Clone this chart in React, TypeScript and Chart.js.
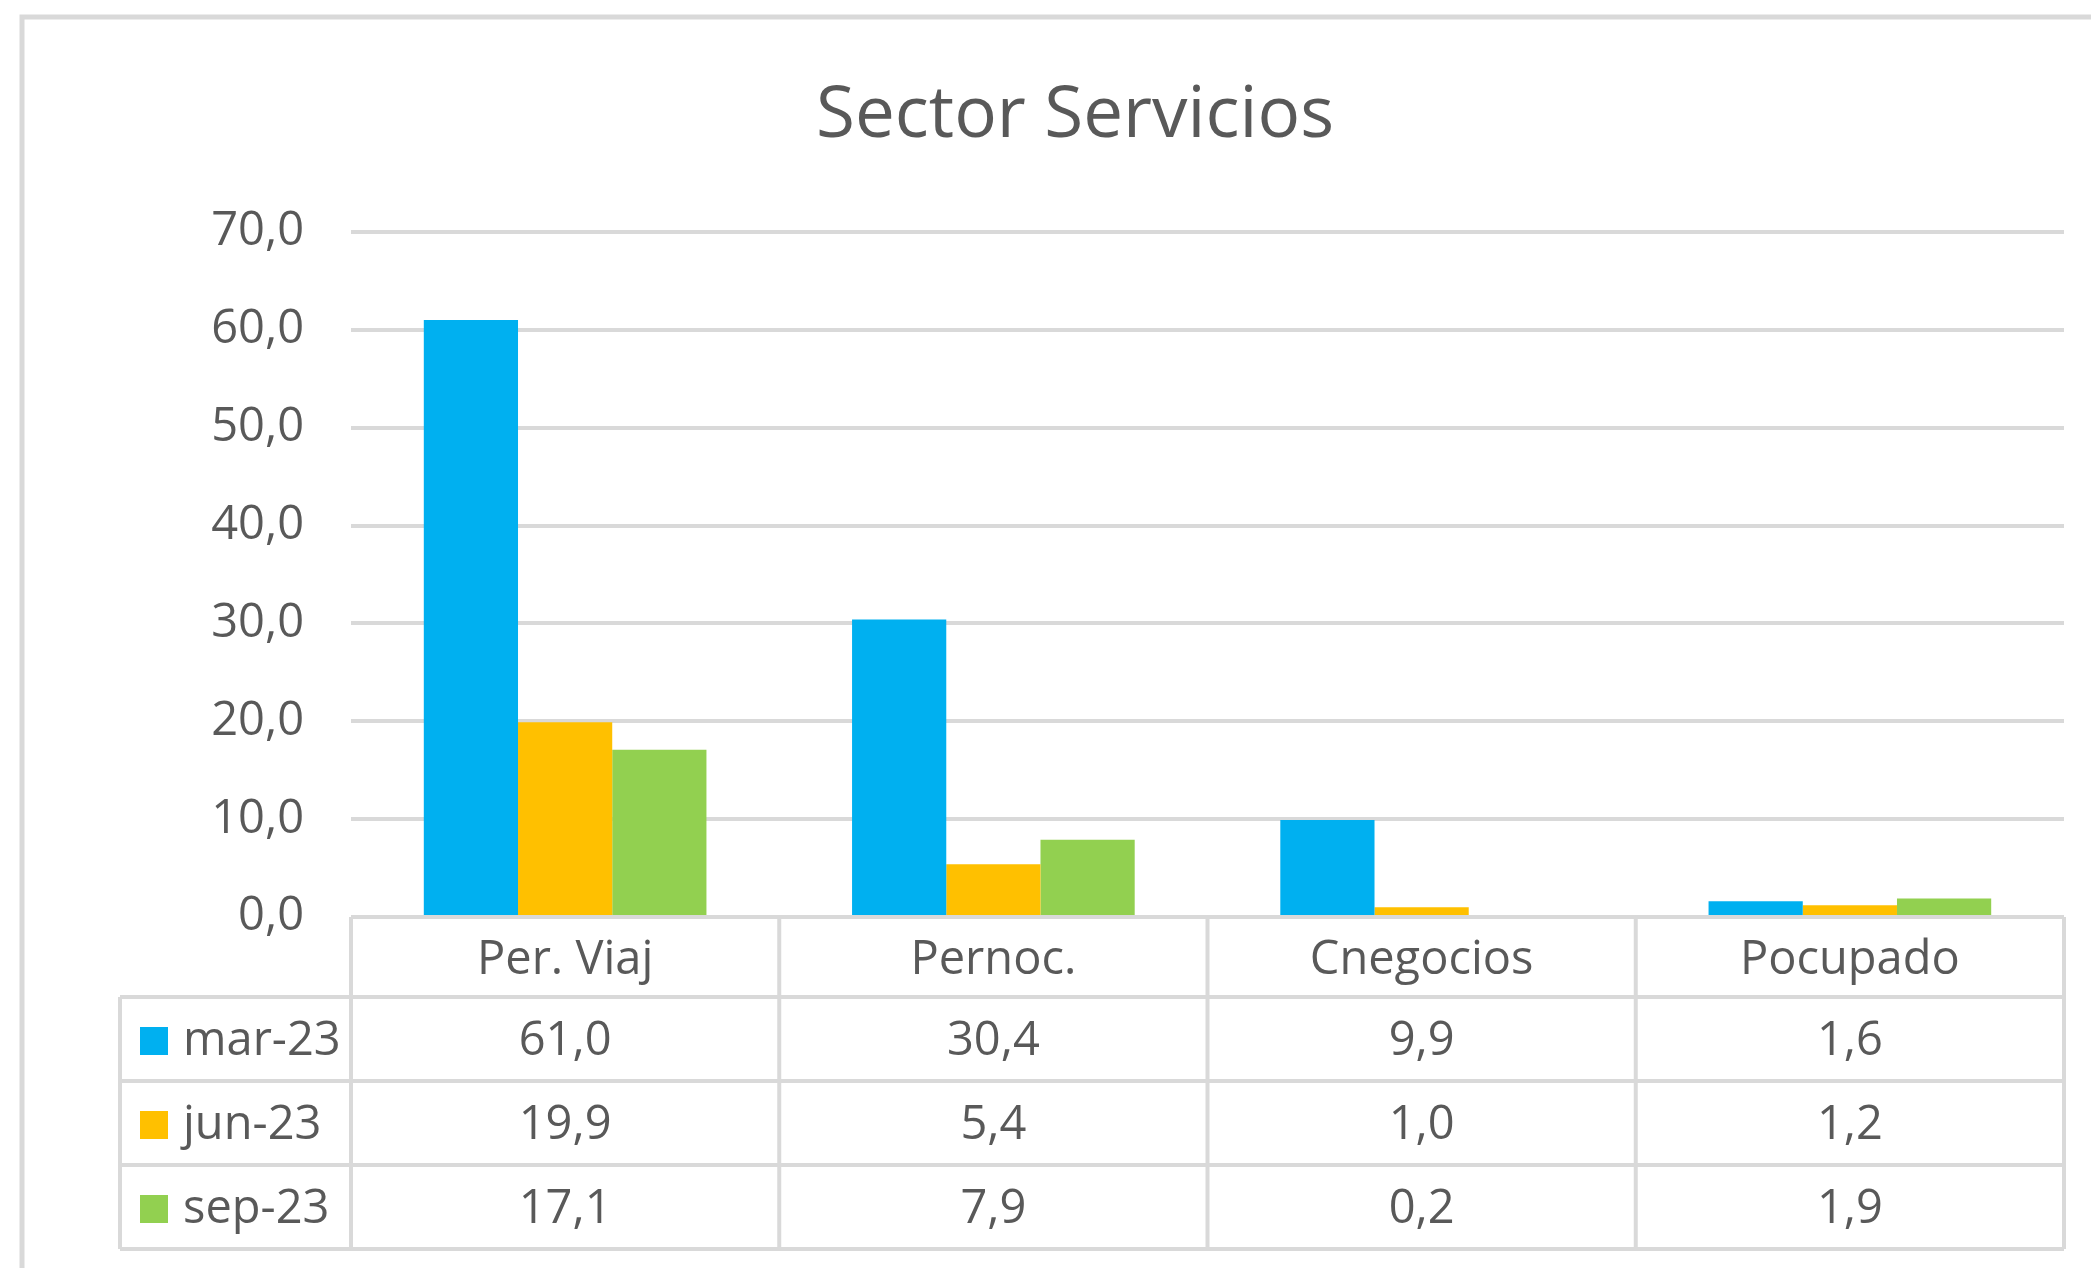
import React, { useEffect, useRef } from "react";
import { Chart, registerables } from "chart.js";

Chart.register(...registerables);

const title = "Sector Servicios";
const categories = ["Per. Viaj", "Pernoc.", "Cnegocios", "Pocupado"];
const seriesLabels = ["mar-23", "jun-23", "sep-23"];
const mar23 = [61.0, 30.4, 9.9, 1.6];
const jun23 = [19.9, 5.4, 1.0, 1.2];
const sep23 = [17.1, 7.9, 0.2, 1.9];
const seriesValues = [mar23, jun23, sep23];
const seriesColors = ["#00B0F0", "#FFC000", "#92D050"];
const yMin = 0;
const yMax = 70;
const yStep = 10;

const W = 2091;
const H = 1268;
const FONT = "'Open Sans', 'Noto Sans', sans-serif";
const TEXT = "#595959";
const LINE = "#D9D9D9";

const fmt = (v: number) => Number(v).toFixed(1).replace(".", ",");

const framePlugin = {
  id: "frameAndTable",
  beforeDraw(chart: any) {
    const ctx = chart.ctx;
    ctx.save();
    ctx.fillStyle = "#ffffff";
    ctx.fillRect(0, 0, W, H);
    ctx.strokeStyle = LINE;
    ctx.lineWidth = 5;
    ctx.strokeRect(22, 17, W + 200, H + 200);
    ctx.fillStyle = TEXT;
    ctx.font = `71px ${FONT}`;
    ctx.textAlign = "center";
    ctx.textBaseline = "middle";
    ctx.fillText(title, 1075, 117);
    ctx.restore();
  },
  afterDraw(chart: any) {
    const { ctx, chartArea } = chart;
    const left = chartArea.left;
    const right = chartArea.right;
    const top = chartArea.bottom;
    const n = categories.length;
    const colW = (right - left) / n;
    const headerH = 80;
    const rowH = 84;
    const legendLeft = 120;
    const bottom = top + headerH + rowH * seriesLabels.length;

    ctx.save();
    ctx.strokeStyle = LINE;
    ctx.lineWidth = 4;
    ctx.beginPath();
    ctx.moveTo(left, top);
    ctx.lineTo(right, top);
    for (let i = 0; i <= seriesLabels.length; i++) {
      const y = top + headerH + rowH * i;
      ctx.moveTo(legendLeft, y);
      ctx.lineTo(right, y);
    }
    for (let i = 0; i <= n; i++) {
      const x = left + colW * i;
      ctx.moveTo(x, top);
      ctx.lineTo(x, bottom);
    }
    ctx.moveTo(legendLeft, top + headerH);
    ctx.lineTo(legendLeft, bottom);
    ctx.stroke();

    ctx.fillStyle = TEXT;
    ctx.font = `47px ${FONT}`;
    ctx.textAlign = "center";
    ctx.textBaseline = "middle";
    categories.forEach((c, i) => {
      ctx.fillText(c, left + colW * (i + 0.5), top + headerH / 2 + 4);
    });

    seriesLabels.forEach((s, r) => {
      const cy = top + headerH + rowH * (r + 0.5) + 3;
      ctx.fillStyle = seriesColors[r];
      ctx.fillRect(140, cy - 15, 28, 28);
      ctx.fillStyle = TEXT;
      ctx.textAlign = "left";
      ctx.fillText(s, 183, cy);
      ctx.textAlign = "center";
      seriesValues[r].forEach((v, i) => {
        ctx.fillText(fmt(v), left + colW * (i + 0.5), cy);
      });
    });
    ctx.restore();
  },
};

export default function App() {
  const ref = useRef<HTMLCanvasElement | null>(null);

  useEffect(() => {
    if (!ref.current) return;
    const chart = new Chart(ref.current, {
      type: "bar",
      data: {
        labels: categories,
        datasets: seriesLabels.map((s, i) => ({
          label: s,
          data: seriesValues[i],
          backgroundColor: seriesColors[i],
          borderWidth: 0,
          categoryPercentage: 0.66,
          barPercentage: 1.0,
        })),
      },
      options: {
        animation: false,
        responsive: false,
        maintainAspectRatio: false,
        layout: { padding: { left: 0, right: 27, top: 232, bottom: 351 } },
        plugins: {
          legend: { display: false },
          title: { display: false },
          tooltip: { enabled: false },
        },
        scales: {
          x: { display: false },
          y: {
            min: yMin,
            max: yMax,
            ticks: {
              stepSize: yStep,
              padding: 47,
              color: TEXT,
              font: { family: FONT, size: 47 },
              callback: (v: any) => fmt(Number(v)),
            },
            grid: { color: LINE, lineWidth: 4, drawTicks: false },
            border: { display: false },
            afterFit(scale: any) {
              scale.width = 351;
            },
          },
        },
      },
      plugins: [framePlugin],
    });
    return () => chart.destroy();
  }, []);

  return (
    <div style={{ position: "fixed", left: 0, top: 0, width: W, height: H, background: "#fff" }}>
      <canvas ref={ref} width={W} height={H} style={{ width: W, height: H, display: "block" }} />
    </div>
  );
}
